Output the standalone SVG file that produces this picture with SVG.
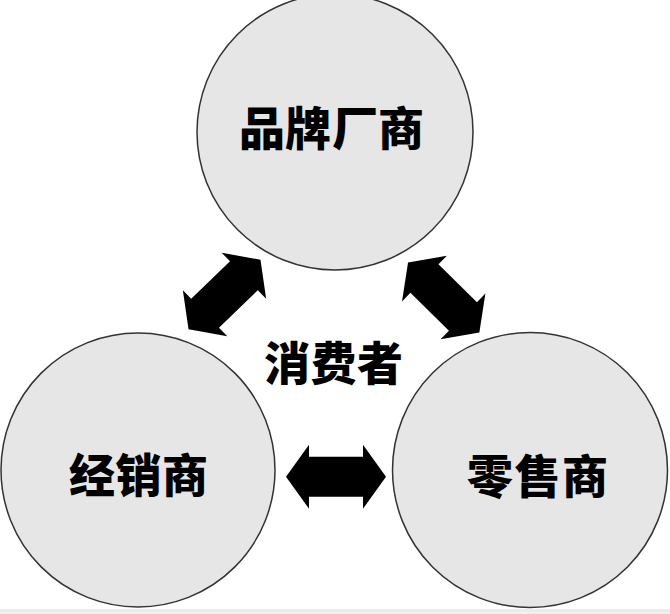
<svg xmlns="http://www.w3.org/2000/svg" width="670" height="614" viewBox="0 0 670 614">
  <defs>
    <style>
      .node circle { fill: #e6e6e6; stroke: #333333; stroke-width: 1.5; }
      .lbl { font-family: "Noto Sans CJK SC", "Noto Sans CJK JP", sans-serif; font-weight: 900; font-size: 46px; fill: #000000; text-anchor: middle; }
      .arrow { fill: #000000; }
    </style>
    <polygon id="dbl" points="-50,0 -27,-32 -27,-20 27,-20 27,-32 50,0 27,32 27,20 -27,20 -27,32"/>
  </defs>
  <rect x="0" y="0" width="670" height="614" fill="#ffffff"/>
  <rect x="0" y="610" width="670" height="4" fill="#f0f0f0"/>
  <line x1="0" y1="610" x2="670" y2="610" stroke="#e0e0e0" stroke-width="1"/>

  <g id="brand" class="node">
    <circle cx="335" cy="132" r="138"/>
    <text class="lbl" x="262 308 355 401" y="145">品牌厂商</text>
  </g>
  <g id="distributor" class="node">
    <circle cx="138" cy="470" r="137"/>
    <text class="lbl" x="92 138.5 185" y="492">经销商</text>
  </g>
  <g id="retailer" class="node">
    <circle cx="530" cy="470" r="137.5"/>
    <text class="lbl" x="490 537.5 585" y="493">零售商</text>
  </g>
  <g id="consumer">
    <text class="lbl" x="287 333.5 380" y="380">消费者</text>
  </g>

  <g id="connectors" class="arrow">
    <use href="#dbl" transform="translate(224.5,294.5) rotate(-44)"/>
    <use href="#dbl" transform="translate(443.7,297.5) rotate(44.5)"/>
    <use href="#dbl" transform="translate(336,476.7)"/>
  </g>
</svg>
